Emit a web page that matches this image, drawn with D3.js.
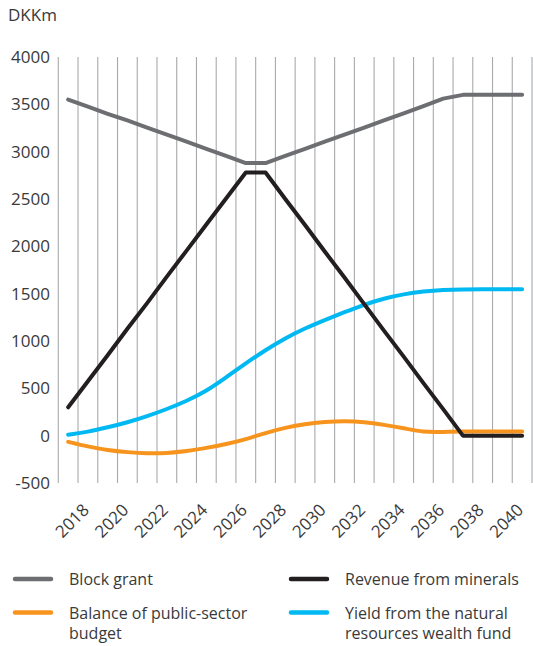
<!DOCTYPE html>
<html>
<head>
<meta charset="utf-8">
<script src="https://cdn.jsdelivr.net/npm/d3@7/dist/d3.min.js"></script>
<style>
  html, body { margin: 0; padding: 0; background: #ffffff; }
  svg { display: block; }
  text { font-family: "Open Sans", "Noto Sans", sans-serif; fill: #3a3a3a; }
</style>
</head>
<body>
<svg id="chart" width="533" height="646"></svg>
<script>
const years = d3.range(2017, 2041);
const tickYears = [2018, 2020, 2022, 2024, 2026, 2028, 2030, 2032, 2034, 2036, 2038, 2040];
const yTicks = [-500, 0, 500, 1000, 1500, 2000, 2500, 3000, 3500, 4000];

const blockGrant = [3550, 3475, 3400, 3330, 3255, 3180, 3105, 3030, 2955, 2880, 2880, 2955, 3030, 3105, 3180, 3255, 3330, 3405, 3480, 3560, 3600, 3600, 3600, 3600];
const revenueMinerals = [300, 575, 850, 1130, 1400, 1680, 1955, 2230, 2505, 2780, 2780, 2500, 2225, 1945, 1670, 1390, 1110, 835, 555, 280, 0, 0, 0, 0];
const publicBalance = [-65, -115, -155, -175, -188, -185, -165, -130, -90, -40, 30, 85, 125, 145, 155, 145, 115, 80, 35, 40, 45, 45, 45, 45];
const fundYield = [10, 40, 88, 140, 205, 280, 365, 470, 615, 765, 905, 1030, 1135, 1222, 1305, 1385, 1450, 1495, 1524, 1540, 1546, 1546, 1546, 1546];

const seriesNames = ["Block grant", "Revenue from minerals", "Balance of public-sector budget", "Yield from the natural resources wealth fund"];
const seriesColors = ["#6d6e71", "#231f20", "#f7941d", "#00b9f2"];
const seriesData = [blockGrant, revenueMinerals, publicBalance, fundYield];
const seriesCurves = [d3.curveLinear, d3.curveLinear, d3.curveBasis, d3.curveBasis];

const svg = d3.select("#chart");

const x = d3.scaleBand().domain(years).range([58.3, 532]).padding(0);
const y = d3.scaleLinear().domain([-500, 4000]).range([483, 57]);

// unit label
svg.append("text").attr("x", 8).attr("y", 21).attr("font-size", 17).text("DKKm");

// vertical grid lines at band boundaries
const bounds = years.map(d => x(d)).concat([x.range()[1]]);
svg.append("g").selectAll("line").data(bounds).join("line")
  .attr("x1", d => d).attr("x2", d => d)
  .attr("y1", y(4000)).attr("y2", y(-500))
  .attr("stroke", "#a7a9ac").attr("stroke-width", 1.1);

// y labels
svg.append("g").selectAll("text").data(yTicks).join("text")
  .attr("x", 50).attr("y", d => y(d)).attr("dy", "0.35em")
  .attr("text-anchor", "end").attr("font-size", 17)
  .text(d => d);

// x labels
svg.append("g").selectAll("text").data(tickYears).join("text")
  .attr("transform", d => `translate(${x(d) + x.bandwidth() / 2 - 2},${y(-500) + 24}) rotate(-45)`)
  .attr("text-anchor", "end").attr("font-size", 17)
  .attr("dy", "0.35em")
  .text(d => d);

// lines
const drawOrder = [0, 2, 3, 1];
drawOrder.forEach(k => {
  const line = d3.line()
    .x((d, i) => x(years[i]) + x.bandwidth() / 2)
    .y(d => y(d))
    .curve(seriesCurves[k]);
  svg.append("path")
    .datum(seriesData[k])
    .attr("d", line)
    .attr("fill", "none")
    .attr("stroke", seriesColors[k])
    .attr("stroke-width", 4)
    .attr("stroke-linecap", "round")
    .attr("stroke-linejoin", "round");
});

// legend
const legendItems = [
  { k: 0, lx: 13, ly: 579, lines: ["Block grant"] },
  { k: 1, lx: 289, ly: 579, lines: ["Revenue from minerals"] },
  { k: 2, lx: 13, ly: 612.5, lines: ["Balance of public-sector", "budget"] },
  { k: 3, lx: 289, ly: 612.5, lines: ["Yield from the natural", "resources wealth fund"] }
];
const lg = svg.append("g");
legendItems.forEach(it => {
  lg.append("line")
    .attr("x1", it.lx + 2).attr("x2", it.lx + 38)
    .attr("y1", it.ly).attr("y2", it.ly)
    .attr("stroke", seriesColors[it.k]).attr("stroke-width", 4.5)
    .attr("stroke-linecap", "round");
  const t = lg.append("text").attr("x", it.lx + 56).attr("y", it.ly + 6).attr("font-size", 16);
  it.lines.forEach((s, i) => {
    t.append("tspan").attr("x", it.lx + 56).attr("dy", i === 0 ? 0 : 20).text(s);
  });
});
</script>
</body>
</html>
